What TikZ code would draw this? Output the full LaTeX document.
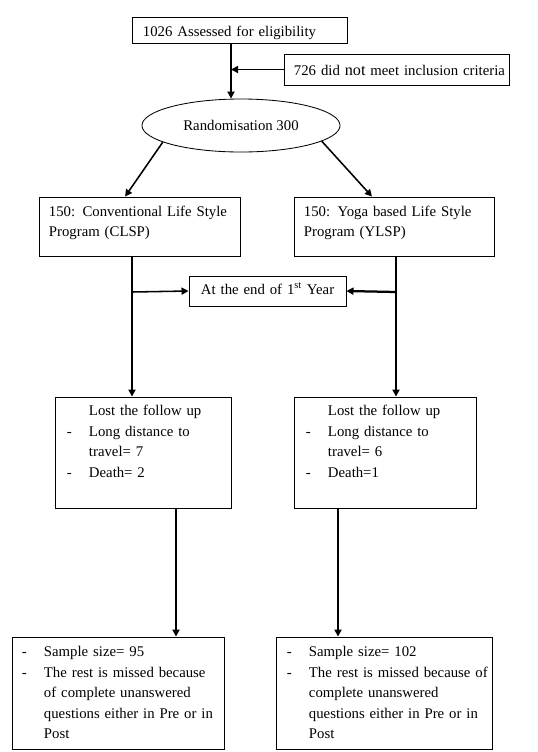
\documentclass[tikz,border=0pt]{standalone}
\usepackage{fontspec}
\setmainfont{Liberation Serif}
\usepackage{tikz}
\usetikzlibrary{shapes.geometric, arrows.meta}

\newcommand{\dashitem}[1]{\makebox[0.55cm][l]{-}\mbox{#1}}
\newcommand{\contline}[1]{\hspace*{0.55cm}\mbox{#1}}

\begin{document}
\begin{tikzpicture}[x=0.025cm, y=-0.025cm,
          fbox/.style={rectangle, draw, line width=0.6pt, inner ysep=0pt,
                       align=left, font=\fontsize{10.5}{14.5}\selectfont},
          arr/.style={-{Triangle[length=5pt, width=5pt]}, line width=1.6pt},
          thinarr/.style={-{Triangle[length=5pt, width=5pt]}, line width=1.1pt}
        ]
        \useasboundingbox (0,0) rectangle (538,752);

        % top of the flow
        \node[fbox, text width=4.825cm, inner xsep=0.275cm,
              text height=0.475cm, text depth=0.175cm]
              (assess) at (239.5, 30) {1026 Assessed for eligibility};
        \node[fbox, text width=5.125cm, inner xsep=0.25cm,
              text height=0.525cm, text depth=0.25cm]
              (excl) at (396.5, 69.5)
              {\mbox{726 did {\fontsize{11.5}{14}\selectfont not} meet inclusion criteria}};
        \node[ellipse, draw, line width=0.6pt, minimum width=4.95cm,
              minimum height=1.325cm, inner sep=0pt, font=\fontsize{10.5}{12}\selectfont]
              (rand) at (241, 125.5) {Randomisation 300\\[-6pt]};

        \coordinate (j1) at (231, 69.5);
        \draw[arr] (assess.south -| j1) -- (j1 |- rand.north);
        \draw[thinarr] (excl.west) -- (j1);

        % the two arms
        \node[fbox, text width=4.525cm, inner xsep=0.25cm,
              text height=0.475cm, text depth=1.0cm]
              (clsp) at (139.5, 226.5) {150: Conventional Life Style\\Program (CLSP)};
        \node[fbox, text width=4.5cm, inner xsep=0.25cm,
              text height=0.475cm, text depth=1.0cm]
              (ylsp) at (394, 226.5) {150: Yoga based Life Style\\Program (YLSP)};

        \draw[thinarr] (rand.192) -- ([xshift=-0.36cm]clsp.north);
        \draw[thinarr] (rand.-11) -- ([xshift=-0.55cm]ylsp.north);

        \node[fbox, text width=3.325cm, inner xsep=0.3cm,
              text height=0.45cm, text depth=0.3cm]
              (yearend) at (267.5, 291) {\mbox{At the end of 1\textsuperscript{st} Year}};

        % follow up losses
        \node[fbox, text width=3.8cm, inner xsep=0.3cm,
              text height=0.475cm, text depth=2.3cm]
              (lostl) at (143, 452.5)
              {\contline{Lost the follow up}\\
               \dashitem{Long distance to}\\
               \contline{travel= 7}\\
               \dashitem{Death= 2}};
        \node[fbox, text width=3.95cm, inner xsep=0.3cm,
              text height=0.475cm, text depth=2.3cm]
              (lostr) at (385, 452.5)
              {\contline{Lost the follow up}\\
               \dashitem{Long distance to}\\
               \contline{travel= 6}\\
               \dashitem{Death=1}};

        \coordinate (jl) at (132, 292);
        \coordinate (jr) at (396, 292);
        \draw[arr] (clsp.south -| jl) -- (jl |- lostl.north);
        \draw[arr] (ylsp.south -| jr) -- (jr |- lostr.north);
        \draw[thinarr] (jl) -- (yearend.west);
        \draw[arr] (jr) -- (yearend.east);

        % final samples
        \node[fbox, text width=4.8cm, inner xsep=0.25cm,
              text height=0.5cm, text depth=2.3cm]
              (finl) at (118, 693)
              {\dashitem{Sample size= 95}\\
               \dashitem{The rest is missed because}\\
               \contline{of complete unanswered}\\
               \contline{questions either in Pre or in}\\
               \contline{Post}};
        \node[fbox, text width=4.85cm, inner xsep=0.275cm,
              text height=0.5cm, text depth=2.3cm]
              (finr) at (384, 693)
              {\dashitem{Sample size= 102}\\
               \dashitem{The rest is missed because of}\\
               \contline{complete unanswered}\\
               \contline{questions either in Pre or in}\\
               \contline{Post}};

        \coordinate (cl) at (176, 0);
        \coordinate (cr) at (338, 0);
        \draw[arr] (lostl.south -| cl) -- (finl.north -| cl);
        \draw[arr] (lostr.south -| cr) -- (finr.north -| cr);
      \end{tikzpicture}
\end{document}
